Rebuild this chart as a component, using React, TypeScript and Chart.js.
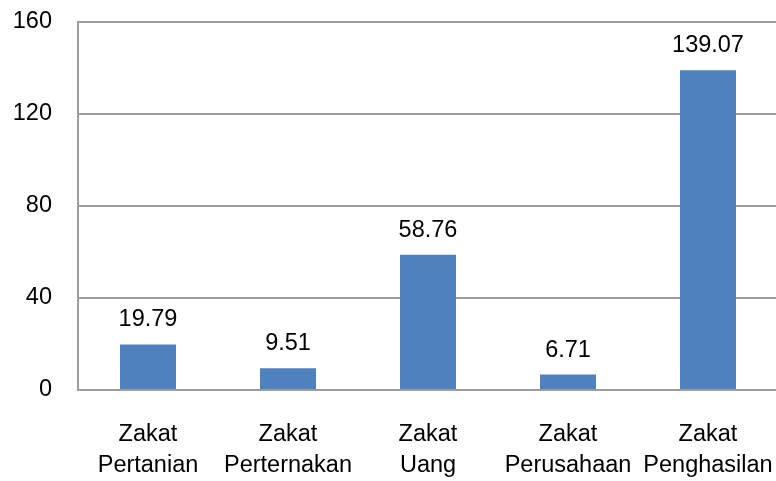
import React, { useEffect, useRef } from "react";
import { Chart, registerables } from "chart.js";

Chart.register(...registerables);

const categories: string[][] = [
  ["Zakat", "Pertanian"],
  ["Zakat", "Perternakan"],
  ["Zakat", "Uang"],
  ["Zakat", "Perusahaan"],
  ["Zakat", "Penghasilan"],
];
const values: number[] = [19.79, 9.51, 58.76, 6.71, 139.07];
const yMin = 0;
const yMax = 160;
const yStep = 40;

const FONT_FAMILY = "'Liberation Sans', Arial, sans-serif";
const FONT_SIZE = 23.5;
const GRID = "#9d9d9d";

const valueLabels = {
  id: "valueLabels",
  afterDatasetsDraw(chart: any) {
    const ctx = chart.ctx;
    const meta = chart.getDatasetMeta(0);
    ctx.save();
    ctx.font = `${FONT_SIZE}px ${FONT_FAMILY}`;
    ctx.fillStyle = "#000000";
    ctx.textAlign = "center";
    ctx.textBaseline = "alphabetic";
    meta.data.forEach((bar: any, i: number) => {
      ctx.fillText(values[i].toFixed(2), bar.x, bar.y - 18);
    });
    ctx.restore();
  },
};

export default function App() {
  const ref = useRef<HTMLCanvasElement | null>(null);

  useEffect(() => {
    if (!ref.current) return;
    const chart = new Chart(ref.current, {
      type: "bar",
      data: {
        labels: categories,
        datasets: [
          {
            data: values,
            backgroundColor: "#4f81bd",
            borderWidth: 0,
            barPercentage: 0.4,
            categoryPercentage: 1,
          },
        ],
      },
      options: {
        animation: false,
        responsive: false,
        maintainAspectRatio: false,
        layout: { padding: { left: 12, right: 2, top: 22, bottom: 0 } },
        plugins: { legend: { display: false }, tooltip: { enabled: false } },
        scales: {
          x: {
            grid: { display: false, drawTicks: false },
            border: { display: true, color: GRID, width: 2 },
            ticks: {
              color: "#000000",
              font: { family: FONT_FAMILY, size: FONT_SIZE, lineHeight: 1.32 },
              padding: 29,
              maxRotation: 0,
              autoSkip: false,
            },
            afterFit: (scale: any) => {
              scale.height = 91;
              scale.paddingLeft = 0;
              scale.paddingRight = 0;
            },
          },
          y: {
            min: yMin,
            max: yMax,
            grid: { color: GRID, lineWidth: 2, drawTicks: false },
            border: { display: true, color: GRID, width: 2 },
            ticks: {
              stepSize: yStep,
              color: "#000000",
              font: { family: FONT_FAMILY, size: FONT_SIZE },
              padding: 26,
            },
            afterFit: (scale: any) => {
              scale.width = 66;
              scale.paddingTop = 0;
              scale.paddingBottom = 0;
            },
          },
        },
      },
      plugins: [valueLabels],
    });
    return () => chart.destroy();
  }, []);

  return (
    <div
      style={{
        position: "fixed",
        left: 0,
        top: 0,
        width: 776,
        height: 481,
        overflow: "hidden",
        background: "#ffffff",
      }}
    >
      <canvas ref={ref} width={780} height={481} style={{ width: 780, height: 481, display: "block" }} />
    </div>
  );
}
